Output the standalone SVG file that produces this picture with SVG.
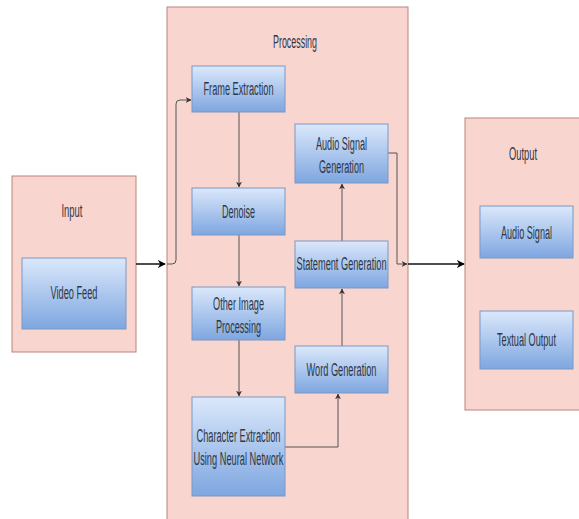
<svg xmlns="http://www.w3.org/2000/svg" width="579" height="519" viewBox="0 0 579 519">
<defs>
<linearGradient id="blue" x1="0" y1="0" x2="0" y2="1">
<stop offset="0" stop-color="#dbe8fb"/>
<stop offset="1" stop-color="#7ea6e0"/>
</linearGradient>
<marker id="ah" viewBox="0 0 10 10" refX="9" refY="5" markerWidth="6" markerHeight="6" orient="auto" markerUnits="userSpaceOnUse">
<path d="M0,0 L10,5 L0,10 L3,5 Z" fill="#333"/>
</marker>
<marker id="ahb" viewBox="0 0 10 10" refX="9" refY="5" markerWidth="8" markerHeight="8" orient="auto" markerUnits="userSpaceOnUse">
<path d="M0,0 L10,5 L0,10 L3,5 Z" fill="#000"/>
</marker>
</defs>
<style>
.grp{fill:#f9d5d0;stroke:#b9837b;stroke-width:1}
.node{fill:url(#blue);stroke:#7b98c4;stroke-width:1}
text{font-family:"Liberation Sans",Arial,sans-serif;font-size:18px;fill:#2f3644;text-anchor:middle}
.c{fill:none;stroke:#555;stroke-width:1}
.cb{fill:none;stroke:#111;stroke-width:1.5}
</style>
<rect width="579" height="519" fill="#ffffff"/>
<g id="input">
<rect class="grp" x="12" y="176" width="124" height="176"/>
<text x="72" y="217" textLength="21" lengthAdjust="spacingAndGlyphs">Input</text>
</g>
<g id="processing">
<rect class="grp" x="167" y="7" width="241" height="520"/>
<text x="295" y="48" textLength="44" lengthAdjust="spacingAndGlyphs">Processing</text>
</g>
<g id="output">
<rect class="grp" x="465" y="118" width="130" height="292"/>
<text x="523" y="160" textLength="28" lengthAdjust="spacingAndGlyphs">Output</text>
</g>
<g id="connectors">
<path class="cb" d="M136,264 L165,264" marker-end="url(#ahb)"/>
<path class="c" d="M167,264 L172,264 Q176,264 176,260 L176,104 Q176,100 180,100 L191,100" marker-end="url(#ah)"/>
<path class="c" d="M239,112 L239,187" marker-end="url(#ah)"/>
<path class="c" d="M239,235 L239,286" marker-end="url(#ah)"/>
<path class="c" d="M239,340 L239,396" marker-end="url(#ah)"/>
<path class="c" d="M285,447 L338,447 L338,394" marker-end="url(#ah)"/>
<path class="c" d="M342,346 L342,289" marker-end="url(#ah)"/>
<path class="c" d="M342,241 L342,184" marker-end="url(#ah)"/>
<path class="c" d="M388,153 L397,153 L397,264 L407,264" marker-end="url(#ah)"/>
<path class="cb" d="M408,264 L464,264" marker-end="url(#ahb)"/>
</g>
<g id="video-feed">
<rect class="node" x="22" y="258" width="104" height="71"/>
<text x="74" y="299" textLength="47" lengthAdjust="spacingAndGlyphs">Video Feed</text>
</g>
<g id="frame-extraction">
<rect class="node" x="192" y="66" width="93" height="46"/>
<text x="238.5" y="95" textLength="70" lengthAdjust="spacingAndGlyphs">Frame Extraction</text>
</g>
<g id="denoise">
<rect class="node" x="192" y="188" width="93" height="47"/>
<text x="238.5" y="218" textLength="33" lengthAdjust="spacingAndGlyphs">Denoise</text>
</g>
<g id="other-image-processing">
<rect class="node" x="192" y="287" width="93" height="53"/>
<text x="238.5" y="310" textLength="51" lengthAdjust="spacingAndGlyphs">Other Image</text>
<text x="238.5" y="333" textLength="45" lengthAdjust="spacingAndGlyphs">Processing</text>
</g>
<g id="character-extraction">
<rect class="node" x="192" y="397" width="93" height="99"/>
<text x="238.5" y="442" textLength="84" lengthAdjust="spacingAndGlyphs">Character Extraction</text>
<text x="238.5" y="465" textLength="90" lengthAdjust="spacingAndGlyphs">Using Neural Network</text>
</g>
<g id="word-generation">
<rect class="node" x="295" y="346" width="93" height="47"/>
<text x="341.5" y="376" textLength="70" lengthAdjust="spacingAndGlyphs">Word Generation</text>
</g>
<g id="statement-generation">
<rect class="node" x="295" y="241" width="93" height="47"/>
<text x="341.5" y="270" textLength="90" lengthAdjust="spacingAndGlyphs">Statement Generation</text>
</g>
<g id="audio-signal-generation">
<rect class="node" x="295" y="124" width="93" height="59"/>
<text x="341.5" y="150" textLength="51" lengthAdjust="spacingAndGlyphs">Audio Signal</text>
<text x="341.5" y="173" textLength="45" lengthAdjust="spacingAndGlyphs">Generation</text>
</g>
<g id="audio-signal">
<rect class="node" x="480" y="206" width="93" height="52"/>
<text transform="translate(526.5,239) scale(0.505,1)">Audio Signal</text>
</g>
<g id="textual-output">
<rect class="node" x="480" y="311" width="93" height="58"/>
<text transform="translate(526.5,346) scale(0.508,1)">Textual Output</text>
</g>
</svg>
